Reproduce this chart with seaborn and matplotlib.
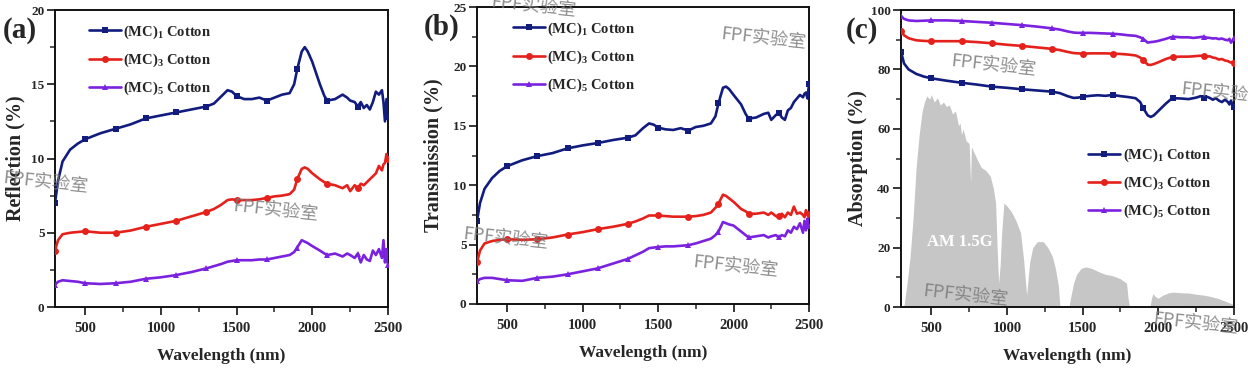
import numpy as np
import pandas as pd
import matplotlib
matplotlib.use("Agg")
import matplotlib.pyplot as plt
from matplotlib.ticker import MultipleLocator
import seaborn as sns

# ---------------- data ----------------
wl = [300, 320, 350, 400, 450, 500, 600, 700, 800, 900, 1000, 1100, 1200, 1300, 1350,
      1400, 1440, 1470, 1500, 1550, 1600, 1650, 1700, 1750, 1800, 1850, 1880, 1900, 1930,
      1950, 1970, 2000, 2050, 2080, 2100, 2150, 2200, 2230, 2250, 2280, 2300, 2320, 2340,
      2360, 2380, 2400, 2420, 2440, 2460, 2470, 2480, 2490, 2500]

series_names = ["(MC)$_\\mathregular{1}$ Cotton", "(MC)$_\\mathregular{3}$ Cotton", "(MC)$_\\mathregular{5}$ Cotton"]

refl_mc1 = [7.0, 8.5, 9.8, 10.6, 11.0, 11.3, 11.7, 12.0, 12.3, 12.7, 12.9, 13.1, 13.3, 13.5, 13.7,
            14.2, 14.6, 14.5, 14.2, 14.0, 14.0, 14.1, 13.9, 14.1, 14.3, 14.4, 15.0, 16.0, 17.2,
            17.5, 17.2, 16.5, 15.0, 14.2, 13.9, 14.0, 14.3, 14.1, 13.9, 13.8, 13.5, 13.8, 13.4,
            13.6, 13.3, 13.8, 14.5, 14.3, 14.6, 13.8, 12.5, 14.0, 12.8]
refl_mc3 = [3.8, 4.5, 4.9, 5.0, 5.05, 5.1, 5.0, 5.0, 5.15, 5.4, 5.6, 5.8, 6.1, 6.4, 6.6,
            6.9, 7.2, 7.25, 7.2, 7.2, 7.2, 7.25, 7.35, 7.45, 7.5, 7.6, 7.9, 8.6, 9.3,
            9.4, 9.3, 9.0, 8.6, 8.4, 8.3, 8.2, 8.0, 8.2, 7.8, 8.2, 8.0, 8.3, 8.2,
            8.4, 8.6, 8.8, 9.0, 9.5, 9.2, 9.6, 9.7, 10.3, 10.0]
refl_mc5 = [1.5, 1.7, 1.8, 1.75, 1.7, 1.6, 1.55, 1.6, 1.7, 1.9, 2.0, 2.15, 2.35, 2.6, 2.75,
            2.9, 3.05, 3.1, 3.15, 3.15, 3.15, 3.2, 3.2, 3.3, 3.4, 3.5, 3.7, 4.0, 4.5,
            4.4, 4.3, 4.1, 3.8, 3.6, 3.5, 3.6, 3.4, 3.6, 3.5, 3.3, 3.6, 3.0, 3.5,
            3.2, 3.1, 3.8, 3.5, 3.9, 3.3, 4.5, 3.0, 3.9, 2.8]

trans_mc1 = [7.0, 8.5, 9.7, 10.6, 11.2, 11.6, 12.1, 12.45, 12.7, 13.1, 13.35, 13.55, 13.8, 14.0, 14.2,
             14.8, 15.2, 15.1, 14.85, 14.7, 14.65, 14.8, 14.6, 14.9, 15.0, 15.2, 15.8, 16.9, 18.2,
             18.3, 18.1, 17.6, 16.8, 16.0, 15.6, 15.7, 16.0, 16.1, 15.5, 15.9, 16.1, 15.7, 15.5,
             16.3, 16.5, 17.0, 17.3, 17.6, 17.4, 17.7, 17.8, 17.3, 18.5]
trans_mc3 = [3.5, 4.5, 5.1, 5.3, 5.4, 5.45, 5.4, 5.45, 5.6, 5.85, 6.05, 6.3, 6.5, 6.75, 6.95,
             7.2, 7.45, 7.45, 7.45, 7.4, 7.35, 7.35, 7.35, 7.4, 7.5, 7.7, 8.1, 8.45, 9.2,
             9.1, 8.9, 8.6, 8.0, 7.8, 7.6, 7.6, 7.7, 7.5, 7.7, 7.4, 7.4, 7.6, 7.3,
             7.7, 7.5, 8.2, 7.6, 7.7, 7.5, 7.3, 7.9, 7.5, 7.6]
trans_mc5 = [1.9, 2.1, 2.2, 2.2, 2.1, 2.0, 1.95, 2.2, 2.3, 2.5, 2.75, 3.0, 3.4, 3.8, 4.1,
             4.4, 4.7, 4.75, 4.8, 4.85, 4.85, 4.9, 4.95, 5.1, 5.3, 5.5, 5.8, 6.1, 6.9,
             6.8, 6.7, 6.6, 6.1, 5.8, 5.6, 5.7, 5.8, 5.6, 5.7, 5.8, 5.6, 5.8, 5.7,
             6.2, 6.0, 6.5, 6.3, 6.8, 6.0, 7.0, 6.2, 7.2, 6.6]

abs_mc1 = [86, 82, 80, 78.5, 77.6, 77.0, 76.2, 75.5, 74.9, 74.2, 73.8, 73.3, 72.9, 72.5, 72.0,
           71.0, 70.4, 70.5, 70.8, 71.1, 71.3, 71.1, 71.4, 71.0, 70.7, 70.3, 69.0, 67.0, 64.5,
           64.0, 64.5, 66.0, 68.5, 69.8, 70.3, 70.2, 70.0, 70.3, 70.5, 71.0, 70.3, 70.8, 70.4,
           69.8, 70.3, 69.5, 69.0, 69.8, 69.0, 68.2, 69.5, 68.0, 67.5]
abs_mc3 = [93, 91.5, 90.5, 89.8, 89.6, 89.5, 89.5, 89.5, 89.2, 88.8, 88.3, 87.9, 87.4, 86.9, 86.5,
           85.9, 85.5, 85.4, 85.3, 85.4, 85.4, 85.4, 85.3, 85.2, 85.0, 84.7, 84.0, 83.2, 81.6,
           81.5, 81.8, 82.4, 83.5, 84.0, 84.2, 84.3, 84.3, 84.4, 84.5, 84.6, 84.5, 84.3, 84.4,
           84.0, 83.8, 83.3, 83.5, 83.0, 82.8, 82.5, 82.3, 82.6, 82.0]
abs_mc5 = [98, 97, 96.5, 96.3, 96.4, 96.5, 96.5, 96.3, 96.0, 95.7, 95.3, 94.9, 94.4, 93.8, 93.4,
           92.8, 92.4, 92.3, 92.3, 92.3, 92.2, 92.1, 92.0, 91.8, 91.5, 91.3, 90.8, 90.3, 89.0,
           89.2, 89.3, 89.6, 90.3, 90.8, 91.0, 90.8, 90.8, 90.6, 90.7, 90.9, 91.0, 90.7, 90.6,
           90.4, 90.5, 90.2, 90.4, 90.0, 89.8, 90.3, 89.0, 89.6, 90.5]

am_wl = [300, 320, 340, 360, 380, 400, 420, 440, 455, 470, 490, 500, 520, 540, 560, 580, 600,
         620, 640, 660, 680, 690, 700, 710, 730, 750, 760, 765, 800, 830, 860, 890, 910, 925,
         935, 945, 955, 965, 980, 1000, 1030, 1060, 1090, 1110, 1130, 1150, 1170, 1200, 1240,
         1270, 1300, 1320, 1340, 1350, 1410, 1420, 1440, 1460, 1490, 1520, 1560, 1600, 1650,
         1700, 1750, 1790, 1800, 1810, 1945, 1955, 1965, 1980, 2000, 2030, 2070, 2100, 2150,
         2200, 2250, 2300, 2350, 2400, 2450, 2500]
am_val = [0, 0.5, 8, 17, 30, 47, 58, 66, 69, 71, 70, 71.5, 69, 70.5, 68, 69, 67.5,
          68, 65, 66, 61, 62, 58, 60, 56, 55, 42, 54, 50, 47, 46, 44, 40, 35,
          20, 8, 14, 25, 35, 34, 32, 29, 25, 16, 4, 15, 20, 22, 22,
          20, 17, 13, 7, 0, 0, 3, 8, 11, 13, 13.5, 13, 12, 11,
          10.5, 9.5, 8, 3, 0, 0, 3, 4.5, 3.5, 3, 4, 4.8, 5, 4.8,
          4.7, 4.3, 4.0, 3.5, 2.8, 1.8, 0.8]

colors = ["#121c7e", "#e5211c", "#7b22e0"]
markers = ["s", "o", "^"]

# ---------------- style ----------------
sns.set_style("ticks")
plt.rcParams["font.family"] = ["Liberation Serif", "DejaVu Serif"]
plt.rcParams["font.weight"] = "bold"
plt.rcParams["mathtext.fontset"] = "custom"
plt.rcParams["mathtext.rm"] = "Liberation Serif:bold"
plt.rcParams["mathtext.it"] = "Liberation Serif:bold"
plt.rcParams["mathtext.bf"] = "Liberation Serif:bold"

fig = plt.figure(figsize=(12.48, 3.72), dpi=100)
W, H = 1248.0, 372.0


def px_axes(l, t, r, b):
    return fig.add_axes([l / W, 1 - b / H, (r - l) / W, (b - t) / H])


ax_a = px_axes(55, 10, 388, 307)
ax_b = px_axes(477, 7, 809, 304)
ax_c = px_axes(901, 10, 1234, 307)

mark_idx = [i for i, w in enumerate(wl) if (w - 300) % 200 == 0]

# AM 1.5G background
am_df = pd.DataFrame({"wl": am_wl, "val": am_val})
ax_c.fill_between(am_df["wl"], 0, am_df["val"], color="#c6c6c6", lw=0, zorder=1)
ax_c.text(690, 22, "AM 1.5G", color="white", fontsize=12, fontweight="bold",
          ha="center", va="center", zorder=2)

panels = [
    (ax_a, [refl_mc1, refl_mc3, refl_mc5], "Reflection (%)", 20, 5, 2.5, -0.09),
    (ax_b, [trans_mc1, trans_mc3, trans_mc5], "Transmission (%)", 25, 5, 2.5, -0.10),
    (ax_c, [abs_mc1, abs_mc3, abs_mc5], "Absorption (%)", 100, 20, 10, -0.10),
]

for ax, vals, ylab, ymax, ymaj, ymin, ylx in panels:
    for name, v, c, m in zip(series_names, vals, colors, markers):
        df = pd.DataFrame({"wl": wl, "val": v})
        sns.lineplot(data=df, x="wl", y="val", ax=ax, color=c, lw=1.9, marker=m,
                     markersize=5, markeredgewidth=0, markevery=mark_idx,
                     label=name, zorder=3)
    ax.set_xlim(300, 2500)
    ax.set_ylim(0, ymax)
    ax.xaxis.set_major_locator(MultipleLocator(500))
    ax.xaxis.set_minor_locator(MultipleLocator(250))
    ax.yaxis.set_major_locator(MultipleLocator(ymaj))
    ax.yaxis.set_minor_locator(MultipleLocator(ymin))
    ax.tick_params(which="major", direction="out", length=5.5, width=1.3)
    ax.tick_params(which="minor", direction="out", length=3.5, width=1.1)
    ax.tick_params(axis="x", which="major", labelsize=10.5, pad=5)
    ax.tick_params(axis="y", which="major", labelsize=9.5, pad=2)
    for lab in ax.get_xticklabels() + ax.get_yticklabels():
        lab.set_fontweight("bold")
    for s in ax.spines.values():
        s.set_linewidth(1.4)
        s.set_color("#111111")
        s.set_visible(True)
    ax.set_xlabel("Wavelength (nm)", fontsize=12.5, fontweight="bold", labelpad=10)
    ax.set_ylabel(ylab, fontsize=14.5, fontweight="bold")
    ax.yaxis.set_label_coords(ylx, 0.5)

leg_kw = dict(frameon=False, fontsize=10.5, handlelength=2.2, handletextpad=0.15,
              labelspacing=0.75, borderaxespad=0, loc="upper left")
ax_a.legend(bbox_to_anchor=(0.085, 0.975), **leg_kw)
ax_b.legend(bbox_to_anchor=(0.09, 0.975), **leg_kw)
ax_c.legend(bbox_to_anchor=(0.545, 0.56), **leg_kw)

# panel letters
for x, y, t in [(3, 31, "(a)"), (424, 27, "(b)"), (846, 31, "(c)")]:
    fig.text(x / W, 1 - y / H, t, fontsize=21, fontweight="bold", ha="left", va="center")

# watermarks
wm = [(2, 182), (232, 210), (490, 6), (720, 38), (462, 238), (692, 266),
      (950, 65), (1180, 93), (922, 295), (1152, 323)]
for x, y in wm:
    fig.text(x / W, 1 - y / H, "FPF实验室", fontsize=13, color="#7a7a7a", alpha=0.85,
             family=["Noto Sans CJK SC", "DejaVu Sans"], fontweight="normal",
             rotation=-6, ha="left", va="center", zorder=10)

fig.savefig("out.png", dpi=100)
